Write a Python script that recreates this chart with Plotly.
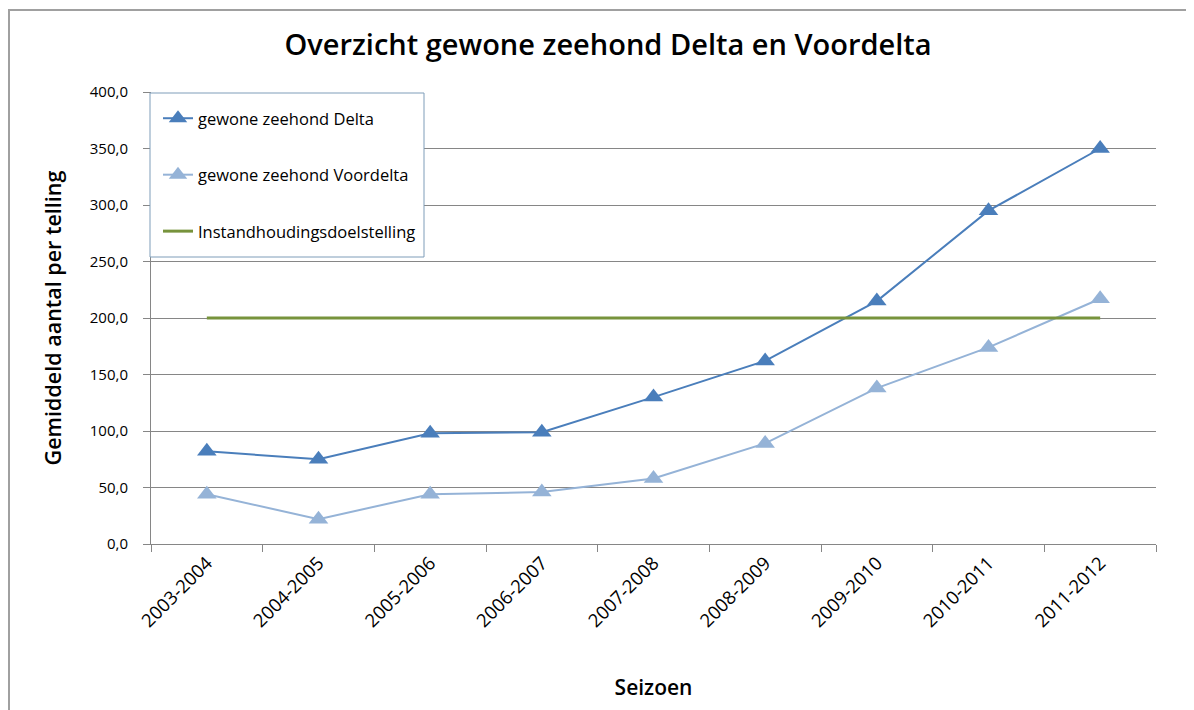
import plotly.graph_objects as go

seasons = ["2003-2004", "2004-2005", "2005-2006", "2006-2007", "2007-2008",
           "2008-2009", "2009-2010", "2010-2011", "2011-2012"]
delta = [82, 75, 98, 99, 130, 162, 215, 295, 350]
voordelta = [44, 22, 44, 46, 58, 89, 138, 174, 217]
doel = [200] * len(seasons)

title = "Overzicht gewone zeehond Delta en Voordelta"
y_title = "Gemiddeld aantal per telling"
x_title = "Seizoen"
y_ticks = [0, 50, 100, 150, 200, 250, 300, 350, 400]

FONT = "Open Sans"

fig = go.Figure()
fig.add_trace(go.Scatter(
    x=seasons, y=delta, name="gewone zeehond Delta", mode="lines+markers",
    line=dict(color="#4A7EBB", width=2),
    marker=dict(symbol="triangle-up", size=17, color="#4A7EBB"),
    legendgroup="a"))
fig.add_trace(go.Scatter(
    x=seasons, y=voordelta, name="gewone zeehond Voordelta", mode="lines+markers",
    line=dict(color="#95B3D7", width=2),
    marker=dict(symbol="triangle-up", size=17, color="#95B3D7"),
    legendgroup="b"))
fig.add_trace(go.Scatter(
    x=seasons, y=doel, name="Instandhoudingsdoelstelling", mode="lines",
    line=dict(color="#77933C", width=3),
    legendgroup="c"))

W, H = 1194, 710
OFF = 8  # page body offset
L, R, T, B = 151 - OFF, 46, 92 - OFF, 174
PW = W - L - R
PH = H - T - B


def px(xpage):
    return (xpage - 151) / PW


def py(ypage):
    return (544 - ypage) / PH


fig.update_layout(
    width=W, height=H,
    margin=dict(l=L, r=R, t=T, b=B),
    paper_bgcolor="white", plot_bgcolor="white",
    separators=", ",
    font=dict(family=FONT, color="#000000"),
    title=dict(text=title, x=(608 - OFF) / W, xanchor="center", y=1 - (45 - OFF) / H,
               yanchor="middle",
               font=dict(family=FONT, size=29, color="#000000", weight=600)),
    showlegend=True,
    legend=dict(x=px(158), y=py(101), xanchor="left", yanchor="top",
                bgcolor="rgba(0,0,0,0)", borderwidth=0,
                font=dict(family=FONT, size=16.5, color="#000000"),
                tracegroupgap=32, traceorder="grouped",
                itemwidth=30),
    xaxis=dict(
        type="category", showgrid=False, showline=True, linecolor="#868686",
        linewidth=1, ticks="outside", tickson="boundaries", ticklen=7,
        tickcolor="#868686", tickangle=-45,
        tickfont=dict(family=FONT, size=18.5, color="#000000"),
        range=[-0.5, len(seasons) - 0.5],
        title=dict(text=x_title, standoff=49,
                   font=dict(family=FONT, size=21, color="#000000", weight=600)),
    ),
    yaxis=dict(
        range=[0, 400], tickvals=y_ticks, tickformat=".1f",
        showgrid=True, gridcolor="#868686", gridwidth=1,
        showline=True, linecolor="#868686", linewidth=1,
        ticks="outside", ticklen=7, tickcolor="#868686",
        ticklabelstandoff=12,
        tickfont=dict(family=FONT, size=15, color="#000000"),
        zeroline=False,
        title=dict(text=y_title, standoff=22,
                   font=dict(family=FONT, size=21.5, color="#000000", weight=600)),
    ),
)

# outer chart border (left and top edges visible)
fig.add_shape(type="rect", xref="paper", yref="paper",
              x0=px(9), x1=px(1210), y0=py(730), y1=py(10),
              line=dict(color="#A0A0A0", width=2), layer="below")

# legend box
fig.add_shape(type="rect", xref="paper", yref="paper",
              x0=px(150), x1=px(424), y0=py(257), y1=py(93),
              fillcolor="white", line=dict(color="#7F9DB9", width=1), layer="above")

fig.write_html("out.html")
